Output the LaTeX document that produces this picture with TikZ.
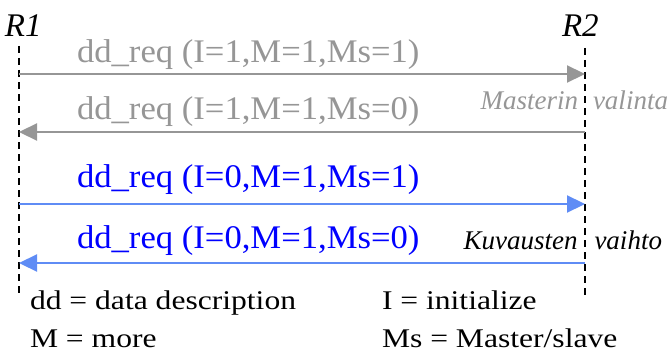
\documentclass[tikz,border=0pt]{standalone}
\usepackage{fontspec}
\setmainfont{Liberation Serif}
\usetikzlibrary{arrows.meta}
\definecolor{msggray}{RGB}{150,150,150}
\definecolor{msgblue}{RGB}{0,0,255}
\definecolor{arrblue}{RGB}{95,140,245}
\tikzset{
  txt/.style={inner sep=0pt, outer sep=0pt, anchor=base west},
  lifeline/.style={line width=1.8pt, dash pattern=on 7pt off 5pt, black},
  msgarrow/.style={line width=2.2pt, -{Triangle[length=18pt,width=17pt]}},
  lbl/.style={txt, font=\rmfamily\fontsize{33}{38}\selectfont, xscale=1.05, transform shape},
  note/.style={inner sep=0pt, outer sep=0pt, anchor=base east, font=\rmfamily\itshape\fontsize{27}{32}\selectfont},
  legend/.style={txt, font=\rmfamily\fontsize{27}{32}\selectfont, xscale=1.17, transform shape},
}
\begin{document}
\begin{tikzpicture}[x=1pt,y=-1pt]
\useasboundingbox (0,0) rectangle (669,353);
% participants
\node[txt, font=\rmfamily\itshape\fontsize{33}{38}\selectfont] (r1) at (5,37) {R1};
\node[txt, font=\rmfamily\itshape\fontsize{33}{38}\selectfont] (r2) at (562,37) {R2};
% lifelines
\coordinate (l1t) at (19,46);
\coordinate (l1b) at (19,297);
\coordinate (l2t) at (585,48);
\coordinate (l2b) at (585,297);
\draw[lifeline] (l1t) -- (l1b);
\draw[lifeline] (l2t) -- (l2b);
% message endpoints
\coordinate (a1s) at (19,74);  \coordinate (a1e) at (585,74);
\coordinate (a2s) at (585,132); \coordinate (a2e) at (19,132);
\coordinate (a3s) at (19,204); \coordinate (a3e) at (585,204);
\coordinate (a4s) at (585,263); \coordinate (a4e) at (19,263);
\draw[msgarrow, msggray] (a1s) -- (a1e);
\draw[msgarrow, msggray] (a2s) -- (a2e);
\draw[msgarrow, arrblue] (a3s) -- (a3e);
\draw[msgarrow, arrblue] (a4s) -- (a4e);
% message labels
\node[lbl, text=msggray] (m1) at (77,63) {dd\_req (I=1,M=1,Ms=1)};
\node[lbl, text=msggray] (m2) at (77,119) {dd\_req (I=1,M=1,Ms=0)};
\node[lbl, text=msgblue] (m3) at (77,187) {dd\_req (I=0,M=1,Ms=1)};
\node[lbl, text=msgblue] (m4) at (77,248) {dd\_req (I=0,M=1,Ms=0)};
% notes
\node[note, text=msggray] (n1) at (668,109) {Masterin\hskip 15pt valinta};
\node[note, text=black] (n2) at (662,249) {Kuvausten\hskip 17pt vaihto};
% legend
\node[legend] (g1) at (30,309) {dd = data description};
\node[legend] (g2) at (382,309) {I = initialize};
\node[legend] (g3) at (30,347) {M = more};
\node[legend] (g4) at (382,347) {Ms = Master/slave};
\end{tikzpicture}
\end{document}
